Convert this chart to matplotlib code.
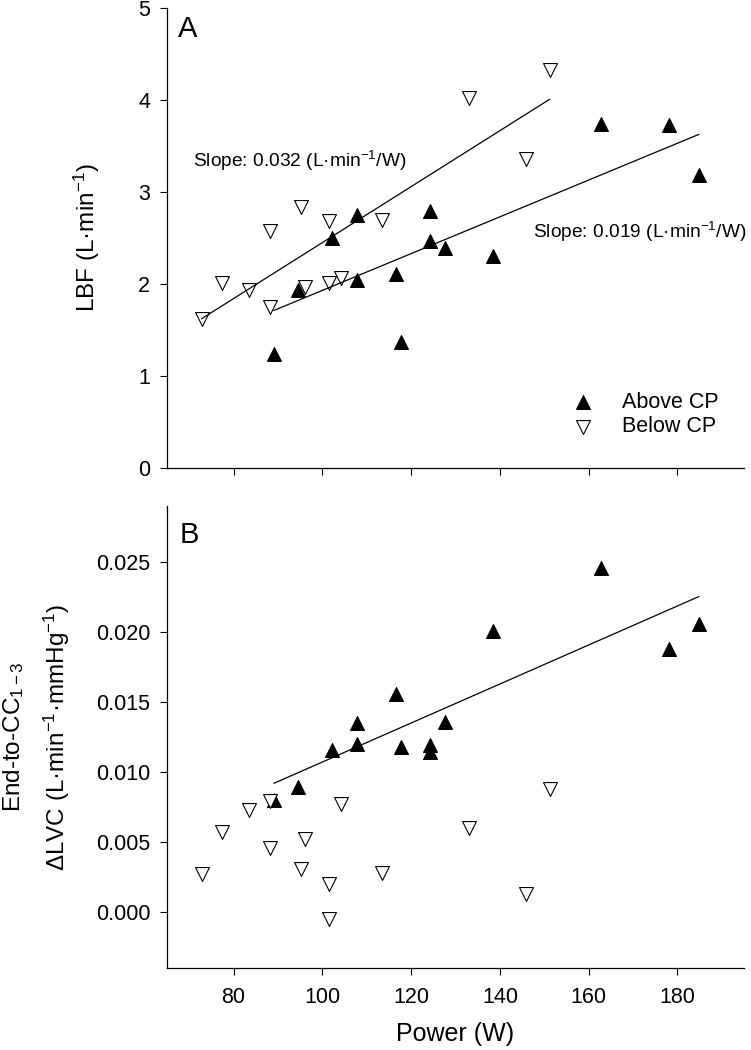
import numpy as np
import matplotlib.pyplot as plt
from matplotlib.ticker import FormatStrFormatter

plt.rcParams['font.family'] = ['Liberation Sans', 'DejaVu Sans']
plt.rcParams['mathtext.fontset'] = 'custom'
plt.rcParams['mathtext.rm'] = 'Liberation Sans'
plt.rcParams['mathtext.it'] = 'Liberation Sans:italic'
plt.rcParams['mathtext.bf'] = 'Liberation Sans:bold'

# power (W) of each bout, above and below critical power
power_above = [89.1, 94.6, 102.1, 107.8, 107.8, 116.5, 117.7, 124.3, 124.3, 127.6, 138.5, 162.7, 178.1, 184.8]
power_below = [72.8, 77.3, 83.5, 88.1, 88.1, 95.2, 96.1, 101.6, 101.6, 104.3, 113.4, 133.0, 145.8, 151.2]

# panel A: leg blood flow (L/min)
lbf_above = [1.24, 1.93, 2.50, 2.75, 2.04, 2.11, 1.37, 2.79, 2.47, 2.39, 2.30, 3.74, 3.73, 3.18]
lbf_below = [1.62, 2.01, 1.93, 2.58, 1.75, 2.84, 1.97, 2.69, 2.01, 2.07, 2.70, 4.02, 3.36, 4.33]

# panel B: end-to-CC1-3 change in leg vascular conductance
lvc_above = [0.0080, 0.0089, 0.0116, 0.0135, 0.0120, 0.0156, 0.0118, 0.0119, 0.0114, 0.0136, 0.0201, 0.0246, 0.01875, 0.0206]
lvc_below = [0.0027, 0.0057, 0.0073, 0.0079, 0.0046, 0.0031, 0.0052, 0.0020, -0.0005, 0.0077, 0.0028, 0.0060, 0.0013, 0.0088]

x_ticks = [80, 100, 120, 140, 160, 180]
lbf_ticks = [0, 1, 2, 3, 4, 5]
lvc_ticks = [0.000, 0.005, 0.010, 0.015, 0.020, 0.025]

slope_below_txt = 'Slope: 0.032 (L·min$^{-1}$/W)'
slope_above_txt = 'Slope: 0.019 (L·min$^{-1}$/W)'


def fit_line(ax, x, y):
    x = np.array(x)
    k, b = np.polyfit(x, np.array(y), 1)
    xx = np.array([x.min(), x.max()])
    ax.plot(xx, k * xx + b, color='black', lw=0.9, zorder=4)


def style(ax):
    ax.spines['top'].set_visible(False)
    ax.spines['right'].set_visible(False)
    ax.spines['left'].set_linewidth(0.9)
    ax.spines['bottom'].set_linewidth(0.9)
    ax.tick_params(direction='out', length=5, width=0.8, labelsize=15.5)
    ax.tick_params(axis='y', pad=7)
    ax.tick_params(axis='x', pad=9)
    ax.set_xlim(65, 195)
    ax.set_xticks(x_ticks)


fig = plt.figure(figsize=(7.51, 10.5), dpi=100)

# ---- panel A
axA = fig.add_axes([0.2224, 0.5543, 0.7683, 0.4381])
style(axA)
axA.scatter(power_above, lbf_above, marker='^', s=100, c='black', edgecolors='black',
            linewidths=0.8, zorder=2, label='Above CP')
axA.scatter(power_below, lbf_below, marker='v', s=100, c='white', edgecolors='black',
            linewidths=0.8, zorder=3, label='Below CP')
fit_line(axA, power_below, lbf_below)
fit_line(axA, power_above, lbf_above)
axA.set_ylim(0, 5)
axA.set_yticks(lbf_ticks)
axA.set_xticklabels([])
axA.text(70.9, 3.275, slope_below_txt, fontsize=13.8, va='baseline')
axA.text(195.6, 2.50, slope_above_txt, fontsize=13.8, va='baseline', ha='right')
axA.text(0.019, 0.937, 'A', transform=axA.transAxes, fontsize=21, va='baseline')
axA.text(-0.1248, 0.5, 'LBF (L·min$^{-1}$)', transform=axA.transAxes, fontsize=17.5,
         rotation=90, rotation_mode='anchor', ha='center', va='baseline')
axA.legend(loc='upper left', bbox_to_anchor=(0.702, 0.165), frameon=False, fontsize=15.5,
           handlelength=1.0, handletextpad=1.3, labelspacing=0.15, borderpad=0,
           borderaxespad=0, scatterpoints=1)

# ---- panel B
axB = fig.add_axes([0.2224, 0.0781, 0.7683, 0.44])
style(axB)
axB.scatter(power_above, lvc_above, marker='^', s=100, c='black', edgecolors='black',
            linewidths=0.8, zorder=2)
axB.scatter(power_below, lvc_below, marker='v', s=100, c='white', edgecolors='black',
            linewidths=0.8, zorder=3)
fit_line(axB, power_above, lvc_above)
axB.set_ylim(-0.004, 0.029)
axB.set_yticks(lvc_ticks)
axB.yaxis.set_major_formatter(FormatStrFormatter('%.3f'))
axB.set_xlabel('Power (W)', fontsize=18, labelpad=10)
axB.text(0.0225, 0.92, 'B', transform=axB.transAxes, fontsize=21, va='baseline')
axB.text(-0.2548, 0.5, 'End-to-CC$_{1-3}$', transform=axB.transAxes, fontsize=17.5,
         rotation=90, rotation_mode='anchor', ha='center', va='baseline')
axB.text(-0.1768, 0.5, 'ΔLVC (L·min$^{-1}$·mmHg$^{-1}$)', transform=axB.transAxes, fontsize=17.5,
         rotation=90, rotation_mode='anchor', ha='center', va='baseline')

fig.savefig('out.png', dpi=100)
